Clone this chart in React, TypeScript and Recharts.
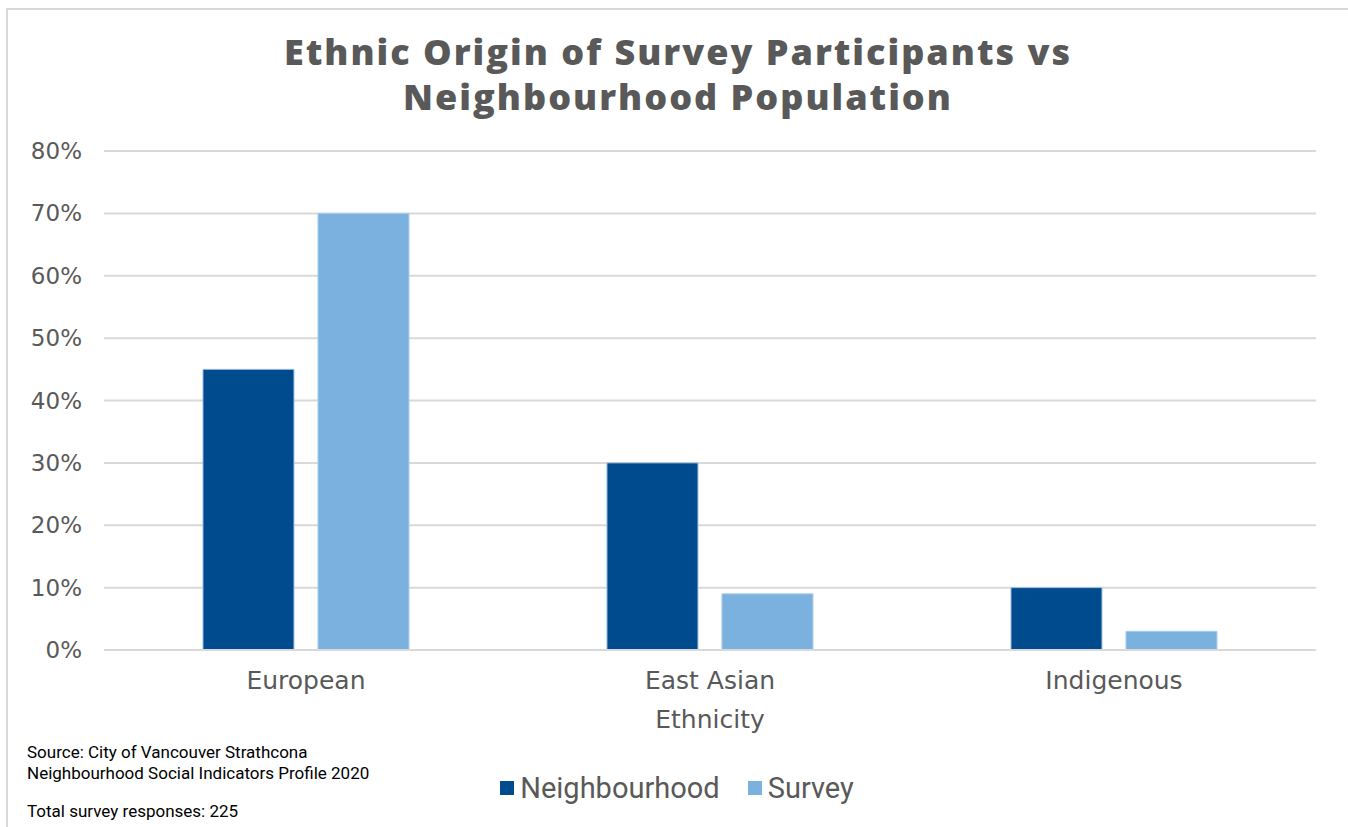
import { BarChart, Bar, XAxis, YAxis, CartesianGrid, Legend } from 'recharts';

const categories = ['European', 'East Asian', 'Indigenous'];
const neighbourhood = [45, 30, 10];
const survey = [70, 9, 3];
const yTicks = [0, 10, 20, 30, 40, 50, 60, 70, 80];

const DARK = '#004B8D';
const LIGHT = '#7AB1DE';
const GREY_TEXT = '#595959';
const GRID = '#D9D9D9';
const NARROW = '"Liberation Sans Narrow", "Arial Narrow", Roboto, sans-serif';

const data = categories.map((name, i) => ({
  name,
  Neighbourhood: neighbourhood[i],
  Survey: survey[i],
}));

function YTick({ x, y, payload }: any) {
  return (
    <text
      x={x}
      y={y}
      textAnchor="end"
      dominantBaseline="central"
      fill={GREY_TEXT}
      style={{ fontFamily: '"DejaVu Sans", sans-serif', fontSize: 23 }}
    >
      {payload.value}%
    </text>
  );
}

function XTick({ x, y, payload }: any) {
  return (
    <text
      x={x}
      y={y + 22}
      textAnchor="middle"
      dominantBaseline="central"
      fill={GREY_TEXT}
      style={{ fontFamily: '"DejaVu Sans", sans-serif', fontSize: 25 }}
    >
      {payload.value}
    </text>
  );
}

function LegendContent({ payload }: any) {
  return (
    <div style={{ display: 'flex', justifyContent: 'center', gap: 28 }}>
      {(payload ?? []).map((item: any) => (
        <div key={item.value} style={{ display: 'flex', alignItems: 'center' }}>
          <span
            style={{
              display: 'inline-block',
              width: 14,
              height: 14,
              marginRight: 6,
              backgroundColor: item.color,
            }}
          />
          <span style={{ fontFamily: NARROW, fontSize: 29, color: GREY_TEXT }}>{item.value}</span>
        </div>
      ))}
    </div>
  );
}

const titleStyle: React.CSSProperties = {
  position: 'absolute',
  left: 0,
  width: 1356,
  textAlign: 'center',
  fontFamily: '"Open Sans", sans-serif',
  fontWeight: 800,
  fontSize: 36,
  letterSpacing: 2,
  lineHeight: '38px',
  color: GREY_TEXT,
};

export default function App() {
  return (
    <div
      style={{
        position: 'absolute',
        left: 0,
        top: 0,
        width: 1348,
        height: 827,
        background: '#fff',
        overflow: 'hidden',
      }}
    >
      {/* frame */}
      <div
        style={{
          position: 'absolute',
          left: 6,
          top: 8,
          width: 1400,
          height: 900,
          borderLeft: `2px solid ${GRID}`,
          borderTop: `2px solid ${GRID}`,
        }}
      />
      {/* title */}
      <div style={{ ...titleStyle, top: 33 }}>Ethnic Origin of Survey Participants vs</div>
      <div style={{ ...titleStyle, top: 78 }}>Neighbourhood Population</div>

      <div style={{ position: 'absolute', left: 0, top: 0 }}>
        <BarChart
          width={1348}
          height={827}
          data={data}
          margin={{ top: 151, right: 32, bottom: 0, left: 24 }}
          barCategoryGap="24.5%"
          barGap={24}
        >
          <CartesianGrid vertical={false} stroke={GRID} strokeWidth={2} />
          <XAxis
            dataKey="name"
            axisLine={{ stroke: GRID, strokeWidth: 2 }}
            tickLine={false}
            tick={<XTick />}
            height={177}
            interval={0}
            label={{
              value: 'Ethnicity',
              position: 'insideTop',
              offset: 60,
              fill: GREY_TEXT,
              style: { fontFamily: '"DejaVu Sans", sans-serif', fontSize: 25 },
            }}
          />
          <YAxis
            domain={[0, 80]}
            ticks={yTicks}
            axisLine={false}
            tickLine={false}
            tick={<YTick />}
            width={80}
            tickSize={0}
            tickMargin={22}
          />
          <Legend
            layout="horizontal"
            verticalAlign="middle"
            align="center"
            content={<LegendContent />}
            wrapperStyle={{ position: 'absolute', left: 337, width: 680, top: 771 }}
          />
          <Bar dataKey="Neighbourhood" fill={DARK} stroke="#9DBFE3" strokeWidth={1} isAnimationActive={false} />
          <Bar dataKey="Survey" fill={LIGHT} stroke="#A9CCEB" strokeWidth={1} isAnimationActive={false} />
        </BarChart>
      </div>

      {/* notes */}
      <div
        style={{
          position: 'absolute',
          left: 27,
          top: 742,
          fontFamily: NARROW,
          fontSize: 17,
          lineHeight: '21px',
          color: '#000',
        }}
      >
        Source: City of Vancouver Strathcona
        <br />
        Neighbourhood Social Indicators Profile 2020
      </div>
      <div
        style={{
          position: 'absolute',
          left: 27,
          top: 801,
          fontFamily: NARROW,
          fontSize: 17,
          lineHeight: '21px',
          color: '#000',
        }}
      >
        Total survey responses: 225
      </div>
    </div>
  );
}
